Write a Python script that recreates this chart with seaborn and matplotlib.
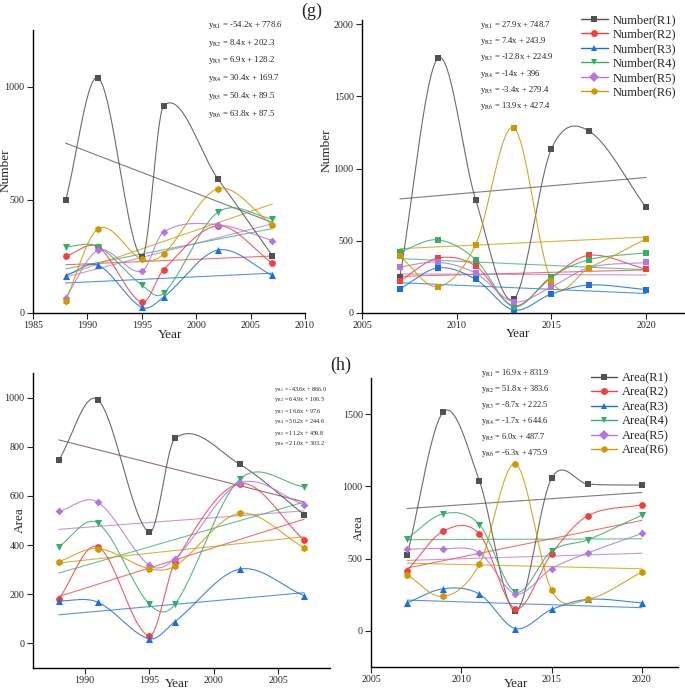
import matplotlib
matplotlib.use("Agg")
import matplotlib.pyplot as plt
from matplotlib.lines import Line2D
import numpy as np
import seaborn as sns

# ---- data ----
years_a = [1988, 1991, 1995, 1997, 2002, 2007]
years_b = [2007, 2009, 2011, 2013, 2015, 2017, 2020]
regions = ["R1", "R2", "R3", "R4", "R5", "R6"]

number_a = {
    "R1": [497, 1038, 248, 914, 592, 253],
    "R2": [250, 291, 47, 191, 385, 220],
    "R3": [165, 210, 25, 70, 278, 166],
    "R4": [293, 293, 123, 87, 445, 416],
    "R5": [68, 277, 185, 358, 390, 320],
    "R6": [55, 373, 237, 260, 549, 390],
}
number_b = {
    "R1": [252, 1764, 785, 95, 1137, 1259, 731],
    "R2": [222, 380, 326, 50, 245, 400, 303],
    "R3": [167, 312, 234, 21, 132, 194, 162],
    "R4": [423, 507, 370, 44, 252, 370, 417],
    "R5": [319, 352, 276, 78, 181, 315, 350],
    "R6": [394, 183, 474, 1285, 222, 315, 514],
}
area_a = {
    "R1": [746, 992, 452, 834, 729, 524],
    "R2": [181, 394, 31, 330, 650, 420],
    "R3": [173, 168, 19, 89, 302, 194],
    "R4": [394, 490, 160, 160, 667, 637],
    "R5": [537, 575, 318, 345, 651, 564],
    "R6": [333, 386, 304, 315, 529, 390],
}
area_b = {
    "R1": [523, 1514, 1039, 137, 1056, 1016, 1009],
    "R2": [417, 690, 671, 153, 535, 796, 873],
    "R3": [194, 292, 255, 16, 148, 218, 194],
    "R4": [639, 810, 736, 269, 553, 630, 801],
    "R5": [565, 569, 542, 257, 431, 539, 674],
    "R6": [389, 238, 461, 1155, 282, 218, 407],
}

eq_number_a = ["-54.2x + 778.6", "8.4x + 202.3", "6.9x + 128.2",
               "30.4x + 169.7", "50.4x + 89.5", "63.8x + 87.5"]
eq_number_b = ["27.9x + 748.7", "7.4x + 243.9", "-12.8x + 224.9",
               "-14x + 396", "-3.4x + 279.4", "13.9x + 427.4"]
eq_area_a = ["-43.6x + 866.0", "64.9x + 106.5", "16.6x + 97.6",
             "50.2x + 244.6", "11.2x + 459.8", "21.0x + 303.2"]
eq_area_b = ["16.9x + 831.9", "51.8x + 383.6", "-8.7x + 222.5",
             "-1.7x + 644.6", "6.0x + 487.7", "-6.3x + 475.9"]

colors = {"R1": "#515151", "R2": "#F14040", "R3": "#1A6FDF",
          "R4": "#37AD6B", "R5": "#B177DE", "R6": "#CC9900"}
markers = {"R1": "s", "R2": "o", "R3": "^", "R4": "v", "R5": "D", "R6": "h"}
msize = {"s": 20, "o": 24, "^": 26, "v": 26, "D": 16, "h": 28}

sns.set_style("ticks")
plt.rcParams["font.family"] = ["Liberation Serif", "DejaVu Serif"]
plt.rcParams["mathtext.fontset"] = "stix"

W, H = 685, 691
fig = plt.figure(figsize=(W / 100, H / 100), dpi=100)


def box(l, t, r, b):
    return [l / W, 1 - b / H, (r - l) / W, (b - t) / H]


def smooth(x, y, n=300):
    # cardinal (Catmull-Rom style) Hermite curve through the points
    x = np.asarray(x, float)
    y = np.asarray(y, float)
    m = np.empty_like(y)
    m[1:-1] = (y[2:] - y[:-2]) / (x[2:] - x[:-2])
    m[0] = (y[1] - y[0]) / (x[1] - x[0])
    m[-1] = (y[-1] - y[-2]) / (x[-1] - x[-2])
    xs = np.linspace(x[0], x[-1], n)
    i = np.clip(np.searchsorted(x, xs) - 1, 0, len(x) - 2)
    h = x[i + 1] - x[i]
    t = (xs - x[i]) / h
    h00 = 2 * t ** 3 - 3 * t ** 2 + 1
    h10 = t ** 3 - 2 * t ** 2 + t
    h01 = -2 * t ** 3 + 3 * t ** 2
    h11 = t ** 3 - t ** 2
    ys = h00 * y[i] + h10 * h * m[i] + h01 * y[i + 1] + h11 * h * m[i + 1]
    return xs, ys


def panel(rect, years, data, all_square=False, r1_trend=None):
    ax = fig.add_axes(rect)
    for r in regions:
        c = colors[r]
        xs, ys = smooth(years, data[r])
        ax.plot(xs, ys, color=c, lw=0.8, alpha=0.85, zorder=2)
        sns.regplot(x=np.array(years, float), y=np.array(data[r], float),
                    scatter=False, ci=None, ax=ax,
                    line_kws=dict(color=(r1_trend if (r == "R1" and r1_trend) else c),
                                  lw=0.8, alpha=0.75, zorder=1))
        m = "s" if all_square else markers[r]
        sns.scatterplot(x=years, y=data[r], marker=m, s=msize[m], color=c,
                        linewidth=0, ax=ax, zorder=3)
    sns.despine(ax=ax)
    ax.tick_params(direction="out", length=4, width=0.8, labelsize=7.2, pad=2)
    for s in ("left", "bottom"):
        ax.spines[s].set_linewidth(1.0)
        ax.spines[s].set_color("black")
    return ax


def labels(ax, rect_px, ylab, xl_center, xl_top, yl_right, yl_center):
    l, t, r, b = rect_px
    ax.set_xlabel("Year", fontsize=9.5)
    ax.set_ylabel(ylab, fontsize=9.5)
    ax.xaxis.set_label_coords((xl_center - l) / (r - l), -(xl_top - b) / (b - t))
    ax.yaxis.set_label_coords((yl_right - l) / (r - l), (b - yl_center) / (b - t))


def equations(x, y0, dy, eqs, size):
    for i, (r, e) in enumerate(zip(regions, eqs)):
        fig.text(x / W, 1 - (y0 + i * dy) / H, r"y$_{\mathrm{%s}}$ = %s" % (r, e),
                 fontsize=size, va="center", ha="left", color="#222222")


def legend(kind, right, top):
    handles = [Line2D([], [], color=colors[r], marker=markers[r], lw=1.0,
                      markersize=5.0, markeredgewidth=0) for r in regions]
    names = [f"{kind}({r})" for r in regions]
    fig.legend(handles, names, loc="upper right",
               bbox_to_anchor=(right / W, 1 - top / H), frameon=False,
               fontsize=9, borderpad=0, borderaxespad=0, handlelength=2.1,
               handletextpad=0.4, labelspacing=0.2)


# (g) top-left
r1 = (33, 30, 305, 313)
ax1 = panel(box(*r1), years_a, number_a)
ax1.set_xlim(1985, 2010)
ax1.set_ylim(0, 1250)
ax1.set_xticks([1985, 1990, 1995, 2000, 2005, 2010])
ax1.set_yticks([0, 500, 1000])
labels(ax1, r1, "Number", 170, 329, 12, 170)
equations(208, 25, 17.7, eq_number_a, 6.3)

# (g) top-right
r2 = (362, 20, 684, 313)
ax2 = panel(box(*r2), years_b, number_b, all_square=True)
ax2.set_xlim(2005, 2022)
ax2.set_ylim(0, 2030)
ax2.set_xticks([2005, 2010, 2015, 2020])
ax2.set_yticks([0, 500, 1000, 1500, 2000])
labels(ax2, r2, "Number", 518, 328, 333, 150)
equations(480, 25, 16.2, eq_number_b, 6.2)
legend("Number", 676, 14)

# (h) bottom-left
r3 = (33, 373, 330, 668)
ax3 = panel(box(*r3), years_a, area_a, r1_trend="#7A3B3B")
ax3.set_xlim(1986, 2009)
ax3.set_ylim(-100, 1100)
ax3.set_xticks([1990, 1995, 2000, 2005])
ax3.set_yticks([0, 200, 400, 600, 800, 1000])
labels(ax3, r3, "Area", 177, 678, 26, 520)
equations(274, 389, 11.0, eq_area_a, 4.4)

# (h) bottom-right
r4 = (371, 378, 678, 667)
ax4 = panel(box(*r4), years_b, area_b)
ax4.set_xlim(2005, 2022)
ax4.set_ylim(-250, 1750)
ax4.set_xticks([2005, 2010, 2015, 2020])
ax4.set_yticks([0, 500, 1000, 1500])
labels(ax4, r4, "Area", 516, 678, 365, 528)
equations(481, 373, 16.0, eq_area_b, 6.0)
legend("Area", 669, 372)

fig.text(312 / W, 1 - 11 / H, "(g)", fontsize=13, ha="center", va="center")
fig.text(341 / W, 1 - 365 / H, "(h)", fontsize=13, ha="center", va="center")

fig.savefig("out.png", dpi=100)
